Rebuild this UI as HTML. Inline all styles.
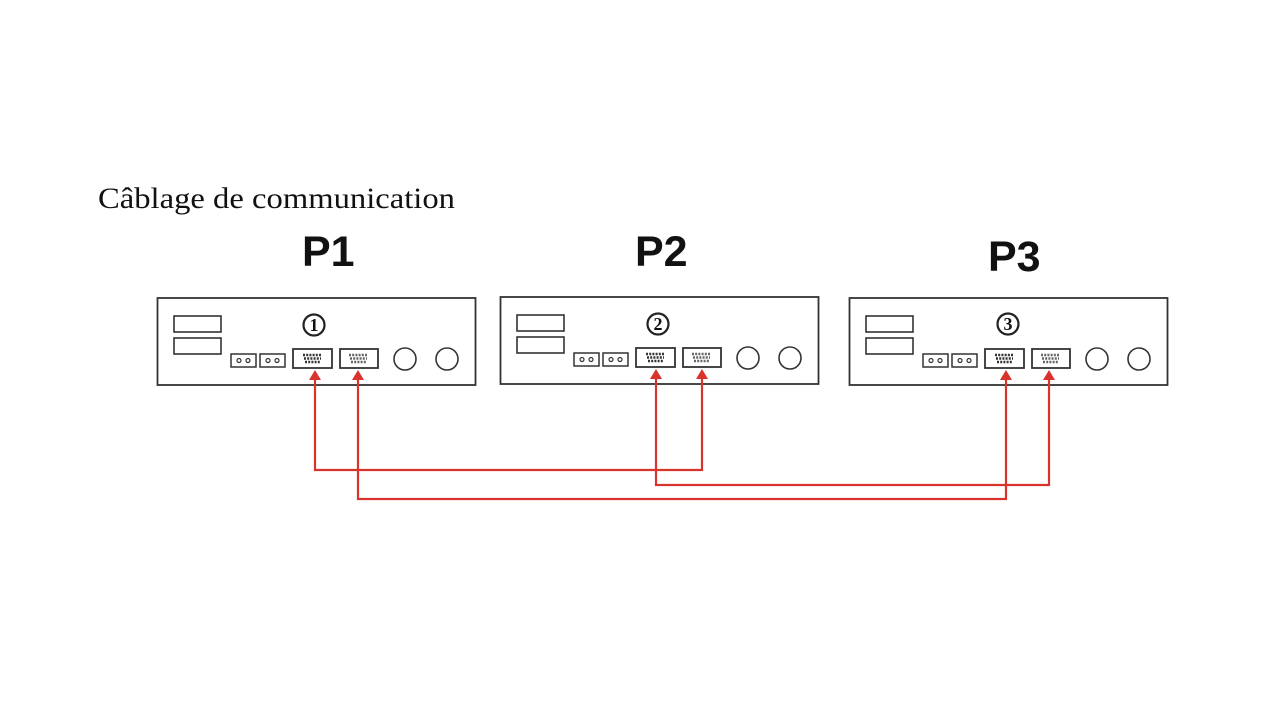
<!DOCTYPE html>
<html><head><meta charset="utf-8"><style>
html,body{margin:0;padding:0;background:#fff;width:1280px;height:720px;overflow:hidden}
</style></head><body>
<svg width="1280" height="720" viewBox="0 0 1280 720" xmlns="http://www.w3.org/2000/svg">
<defs>
<g id="pins">
  <line x1="0" y1="0" x2="19" y2="0" stroke="#333" stroke-width="2.4" stroke-dasharray="2 1.2"/>
  <line x1="1" y1="3.5" x2="18" y2="3.5" stroke="#333" stroke-width="2.4" stroke-dasharray="2 1.2"/>
  <line x1="2" y1="7" x2="17" y2="7" stroke="#333" stroke-width="2.4" stroke-dasharray="2 1.2"/>
</g>
<g id="box">
  <rect x="0.5" y="0" width="318" height="87" fill="#fff" stroke="#333" stroke-width="1.8"/>
  <rect x="17" y="18" width="47" height="16" fill="#fff" stroke="#333" stroke-width="1.6"/>
  <rect x="17" y="40" width="47" height="16" fill="#fff" stroke="#333" stroke-width="1.6"/>
  <rect x="74" y="56" width="25" height="13" fill="#fff" stroke="#333" stroke-width="1.5"/>
  <circle cx="82" cy="62.5" r="2" fill="none" stroke="#333" stroke-width="1.2"/>
  <circle cx="91" cy="62.5" r="2" fill="none" stroke="#333" stroke-width="1.2"/>
  <rect x="103" y="56" width="25" height="13" fill="#fff" stroke="#333" stroke-width="1.5"/>
  <circle cx="111" cy="62.5" r="2" fill="none" stroke="#333" stroke-width="1.2"/>
  <circle cx="120" cy="62.5" r="2" fill="none" stroke="#333" stroke-width="1.2"/>
  <rect x="136" y="51" width="39" height="19" fill="#fff" stroke="#333" stroke-width="1.8"/>
  <use href="#pins" x="146" y="57"/>
  <rect x="183" y="51" width="38" height="19" fill="#fff" stroke="#333" stroke-width="1.8"/>
  <use href="#pins" x="192" y="57" opacity="0.75"/>
  <circle cx="248" cy="61" r="11" fill="#fff" stroke="#333" stroke-width="1.6"/>
  <circle cx="290" cy="61" r="11" fill="#fff" stroke="#333" stroke-width="1.6"/>
</g>
</defs>
<text x="98" y="208" font-family="Liberation Serif, serif" font-size="30" fill="#111" textLength="357" lengthAdjust="spacingAndGlyphs">Câblage de communication</text>
<text x="302" y="266" font-family="Liberation Sans, sans-serif" font-weight="bold" font-size="43" fill="#111">P1</text>
<text x="635" y="266" font-family="Liberation Sans, sans-serif" font-weight="bold" font-size="43" fill="#111">P2</text>
<text x="988" y="271" font-family="Liberation Sans, sans-serif" font-weight="bold" font-size="43" fill="#111">P3</text>

<use href="#box" x="157" y="298"/>
<use href="#box" x="500" y="297"/>
<use href="#box" x="849" y="298"/>

<g fill="none" stroke="#222" stroke-width="2.2">
<circle cx="314" cy="325" r="10.5"/>
<circle cx="658" cy="324" r="10.5"/>
<circle cx="1008" cy="324" r="10.5"/>
</g>
<g font-family="Liberation Serif, serif" font-size="18" fill="#111" font-weight="bold" text-anchor="middle">
<text x="314" y="331">1</text>
<text x="658" y="330">2</text>
<text x="1008" y="330">3</text>
</g>

<g fill="none" stroke="#d9342b" stroke-width="2.2">
  <polyline points="315,378 315,470 702,470 702,378"/>
  <polyline points="656,378 656,485 1049,485 1049,378"/>
  <polyline points="358,378 358,499 1006,499 1006,378"/>
</g>
<g fill="#d9342b">
  <polygon points="315,370 309,380 321,380"/>
  <polygon points="358,370 352,380 364,380"/>
  <polygon points="656,369 650,379 662,379"/>
  <polygon points="702,369 696,379 708,379"/>
  <polygon points="1006,370 1000,380 1012,380"/>
  <polygon points="1049,370 1043,380 1055,380"/>
</g>
</svg>
</body></html>
